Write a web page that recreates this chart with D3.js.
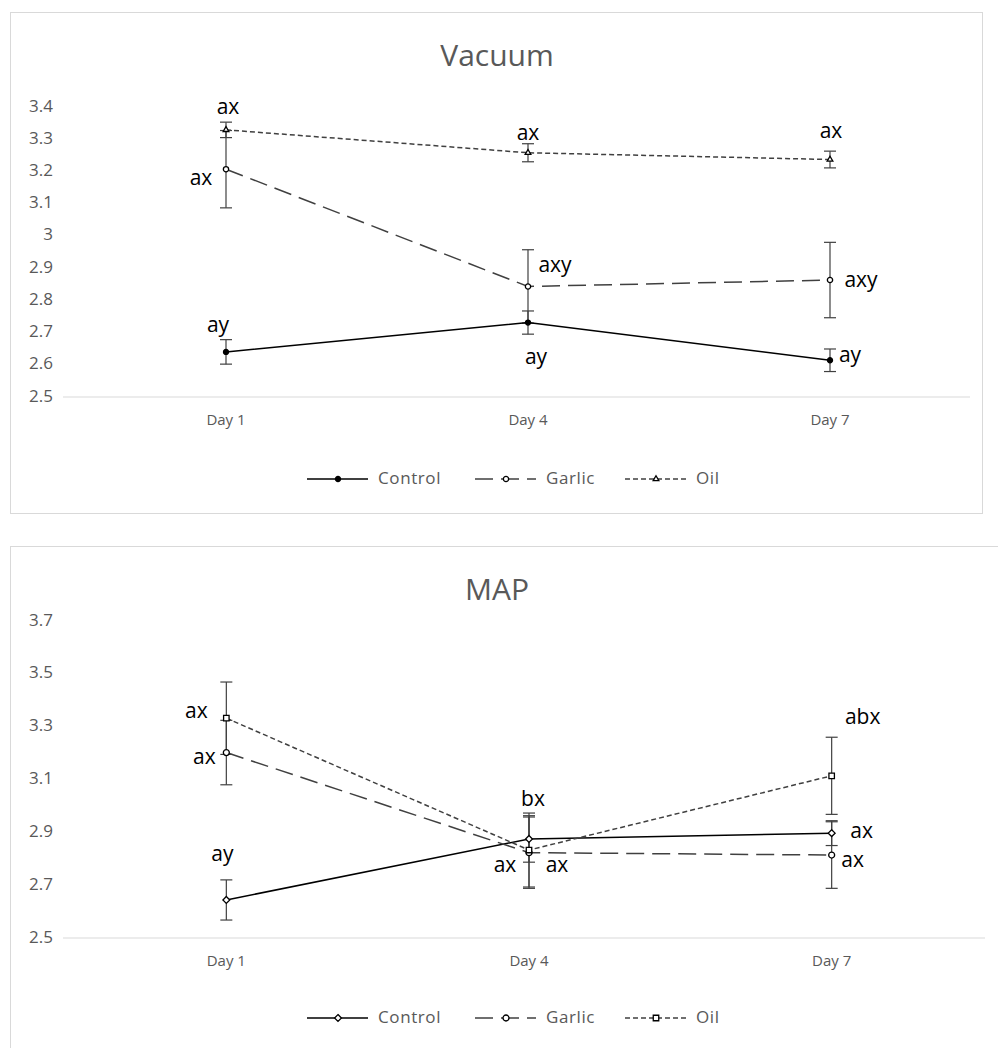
<!DOCTYPE html>
<html>
<head>
<meta charset="utf-8">
<script src="https://cdn.jsdelivr.net/npm/d3@7"></script>
<style>
  body { margin: 0; background: #fff; }
  text { font-family: "Open Sans", sans-serif; }
</style>
</head>
<body>
<svg id="chart" width="998" height="1048"></svg>
<script>
const days = ["Day 1", "Day 4", "Day 7"];
const seriesNames = ["Control", "Garlic", "Oil"];

// Vacuum panel
const vacuumTicks = [2.5, 2.6, 2.7, 2.8, 2.9, 3.0, 3.1, 3.2, 3.3, 3.4];
const vacuumControl = [2.64, 2.731, 2.614];
const vacuumControlErr = [0.038, 0.036, 0.035];
const vacuumGarlic = [3.207, 2.843, 2.863];
const vacuumGarlicErr = [0.12, 0.114, 0.117];
const vacuumOil = [3.329, 3.258, 3.237];
const vacuumOilErr = [0.024, 0.028, 0.026];
const vacuumControlLetters = ["ay", "ay", "ay"];
const vacuumGarlicLetters = ["ax", "axy", "axy"];
const vacuumOilLetters = ["ax", "ax", "ax"];

// MAP panel
const mapTicks = [2.5, 2.7, 2.9, 3.1, 3.3, 3.5, 3.7];
const mapControl = [2.644, 2.875, 2.897];
const mapControlErr = [0.076, 0.088, 0.047];
const mapGarlic = [3.202, 2.823, 2.814];
const mapGarlicErr = [0.122, 0.135, 0.126];
const mapOil = [3.332, 2.833, 3.114];
const mapOilErr = [0.137, 0.14, 0.146];
const mapControlLetters = ["ay", "bx", "ax"];
const mapGarlicLetters = ["ax", "ax", "ax"];
const mapOilLetters = ["ax", "ax", "abx"];

const lineStyles = {
  Control: { color: "#000", dash: null },
  Garlic: { color: "#404040", dash: "18,8" },
  Oil: { color: "#404040", dash: "5,3" }
};

const svg = d3.select("#chart");

function drawMarker(sel, type, size) {
  const sym = { circle: d3.symbolCircle, dot: d3.symbolCircle, triangle: d3.symbolTriangle,
    diamond: d3.symbolDiamond2, square: d3.symbolSquare }[type];
  sel.attr("d", d3.symbol(sym, size))
    .attr("fill", type === "dot" ? "#000" : "#fff")
    .attr("stroke", "#000")
    .attr("stroke-width", 1.3);
}

function drawPanel(cfg) {
  const g = svg.append("g");

  g.append("rect")
    .attr("x", cfg.box[0] + 0.5).attr("y", cfg.box[1] + 0.5)
    .attr("width", cfg.box[2]).attr("height", cfg.box[3])
    .attr("fill", "#fff").attr("stroke", "#d9d9d9");

  g.append("text")
    .attr("x", 497).attr("y", cfg.titleY)
    .attr("text-anchor", "middle")
    .attr("font-size", 30).attr("fill", "#595959")
    .text(cfg.title);

  const x = d3.scaleBand().domain(days).range([cfg.left, cfg.right]);
  const y = d3.scaleLinear().domain(d3.extent(cfg.ticks)).range([cfg.bottom, cfg.top]);
  const cx = d => x(d) + x.bandwidth() / 2;

  // y tick labels
  g.append("g").selectAll("text")
    .data(cfg.ticks).enter().append("text")
    .attr("x", 53).attr("y", d => y(d))
    .attr("text-anchor", "end").attr("dominant-baseline", "middle")
    .attr("font-size", 17).attr("fill", "#595959")
    .text(d => d3.format("~g")(d));

  // x axis
  const xAxis = g.append("g")
    .attr("transform", `translate(0, ${cfg.bottom})`)
    .call(d3.axisBottom(x).tickSize(0).tickPadding(17));
  xAxis.select(".domain").attr("stroke", "#d9d9d9").attr("d", `M${cfg.axisLeft},0H${cfg.axisRight}`);
  xAxis.selectAll("text").attr("font-size", 15).attr("fill", "#595959")
    .attr("font-family", "Open Sans, sans-serif");

  const series = cfg.series;

  // error bars
  series.forEach(s => {
    const eb = g.append("g").attr("stroke", "#404040").attr("stroke-width", 1.2);
    days.forEach((d, i) => {
      const x0 = cx(d);
      const hi = y(s.values[i] + s.errs[i]);
      const lo = y(s.values[i] - s.errs[i]);
      eb.append("line").attr("x1", x0).attr("x2", x0).attr("y1", hi).attr("y2", lo);
      eb.append("line").attr("x1", x0 - 6).attr("x2", x0 + 6).attr("y1", hi).attr("y2", hi);
      eb.append("line").attr("x1", x0 - 6).attr("x2", x0 + 6).attr("y1", lo).attr("y2", lo);
    });
  });

  // lines
  const line = d3.line().x((v, i) => cx(days[i])).y(v => y(v));
  series.forEach(s => {
    const st = lineStyles[s.name];
    g.append("path")
      .datum(s.values)
      .attr("d", line)
      .attr("fill", "none")
      .attr("stroke", st.color)
      .attr("stroke-width", 1.5)
      .attr("stroke-dasharray", st.dash);
  });

  // markers
  series.forEach(s => {
    g.append("g").selectAll("path")
      .data(s.values).enter().append("path")
      .attr("transform", (v, i) => `translate(${cx(days[i])},${y(v)})`)
      .call(drawMarker, s.marker, s.markerSize);
  });

  // significance letters
  series.forEach(s => {
    g.append("g").selectAll("text")
      .data(s.letters).enter().append("text")
      .attr("x", (t, i) => cx(days[i]) + s.offsets[i][0])
      .attr("y", (t, i) => y(s.values[i]) + s.offsets[i][1])
      .attr("text-anchor", "middle").attr("dominant-baseline", "middle")
      .attr("font-size", 21).attr("fill", "#000")
      .text(t => t);
  });

  // legend
  const legendX = [307, 475, 625];
  series.forEach((s, i) => {
    const st = lineStyles[s.name];
    const lg = g.append("g").attr("transform", `translate(${legendX[i]}, ${cfg.legendY})`);
    lg.append("line").attr("x1", 0).attr("x2", 61).attr("y1", 0).attr("y2", 0)
      .attr("stroke", st.color).attr("stroke-width", 1.5).attr("stroke-dasharray", st.dash);
    lg.append("path").attr("transform", "translate(31,0)").call(drawMarker, s.marker, s.markerSize);
    lg.append("text").attr("x", 71).attr("y", 0)
      .attr("dominant-baseline", "middle")
      .attr("font-size", 17).attr("letter-spacing", 0.6).attr("fill", "#595959")
      .text(s.name);
  });
}

drawPanel({
  title: "Vacuum", titleY: 66,
  box: [10, 12, 972, 501],
  left: 75, right: 981, axisLeft: 63, axisRight: 970, top: 107, bottom: 397,
  ticks: vacuumTicks, legendY: 479,
  series: [
    { name: seriesNames[0], values: vacuumControl, errs: vacuumControlErr, letters: vacuumControlLetters,
      marker: "dot", markerSize: 20, offsets: [[-8, -26], [8, 36], [20, -4]] },
    { name: seriesNames[1], values: vacuumGarlic, errs: vacuumGarlicErr, letters: vacuumGarlicLetters,
      marker: "circle", markerSize: 22, offsets: [[-25, 10], [27, -20], [31, 1]] },
    { name: seriesNames[2], values: vacuumOil, errs: vacuumOilErr, letters: vacuumOilLetters,
      marker: "triangle", markerSize: 14, offsets: [[2, -22], [0, -18], [1, -27]] }
  ]
});

drawPanel({
  title: "MAP", titleY: 600,
  box: [10, 546, 1000, 520],
  left: 75, right: 983, axisLeft: 63, axisRight: 985, top: 621, bottom: 938,
  ticks: mapTicks, legendY: 1018,
  series: [
    { name: seriesNames[0], values: mapControl, errs: mapControlErr, letters: mapControlLetters,
      marker: "diamond", markerSize: 30, offsets: [[-4, -45], [4, -39], [30, -1]] },
    { name: seriesNames[1], values: mapGarlic, errs: mapGarlicErr, letters: mapGarlicLetters,
      marker: "circle", markerSize: 28, offsets: [[-22, 6], [-24, 14], [21, 6]] },
    { name: seriesNames[2], values: mapOil, errs: mapOilErr, letters: mapOilLetters,
      marker: "square", markerSize: 30, offsets: [[-30, -6], [28, 16], [31, -57]] }
  ]
});
</script>
</body>
</html>
